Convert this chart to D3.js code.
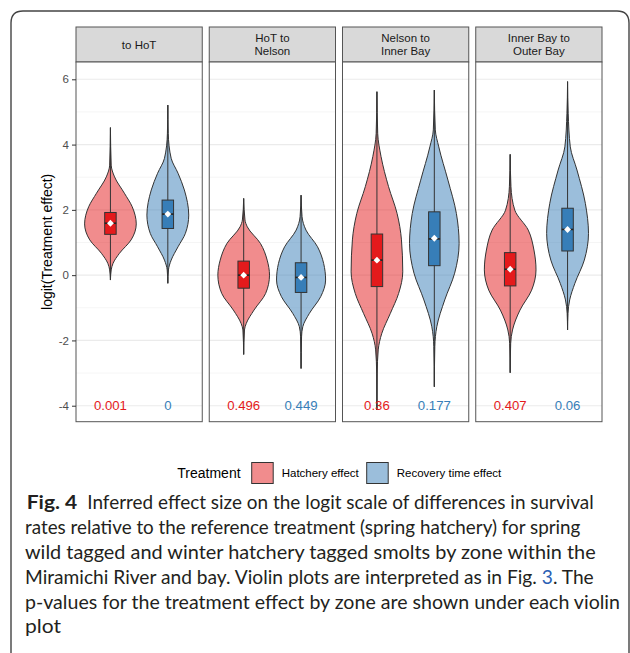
<!DOCTYPE html>
<html>
<head>
<meta charset="utf-8">
<script src="https://cdn.jsdelivr.net/npm/d3@7"></script>
<style>
  html, body { margin: 0; padding: 0; background: #fff; }
  svg { display: block; }
</style>
</head>
<body>
<svg id="chart" width="630" height="653"></svg>
<script>
// ---------------- DATA ----------------
const zones = ["to HoT", "HoT to\nNelson", "Nelson to\nInner Bay", "Inner Bay to\nOuter Bay"];
const treatments = ["Hatchery effect", "Recovery time effect"];
const yTicks = [-4, -2, 0, 2, 4, 6];
const yMinorTicks = [-3, -1, 1, 3, 5];

// summary stats per zone: [min, q1, median, q3, max, mean]
const hatcheryStats = [
  [-0.15, 1.25, 1.59, 1.92, 4.52, 1.59],
  [-2.43, -0.40, 0.00, 0.43, 2.35, 0.00],
  [-4.13, -0.35, 0.46, 1.26, 5.62, 0.46],
  [-2.99, -0.33, 0.18, 0.69, 3.70, 0.18]
];
const recoveryStats = [
  [-0.25, 1.43, 1.87, 2.30, 5.21, 1.87],
  [-2.86, -0.53, -0.07, 0.38, 2.45, -0.07],
  [-3.42, 0.29, 1.11, 1.94, 5.67, 1.13],
  [-1.68, 0.74, 1.40, 2.05, 5.93, 1.40]
];

// density profiles [value, relative density]
const hatcheryDensity = [
  [[-0.15,0],[0.16,0.03],[0.36,0.10],[0.67,0.35],[1.08,0.80],[1.57,1.0],[2.10,0.84],[2.51,0.54],[3.01,0.16],[3.37,0.03],[4.52,0]],
  [[-2.43,0],[-1.68,0.03],[-1.48,0.10],[-1.07,0.40],[-0.56,0.85],[0.0,1.0],[0.46,0.91],[0.97,0.65],[1.48,0.14],[1.69,0.05],[2.35,0]],
  [[-4.13,0],[-3.0,0.01],[-2.29,0.05],[-1.78,0.19],[-1.17,0.52],[-0.56,0.84],[0.10,1.0],[1.08,0.95],[1.89,0.78],[2.71,0.45],[3.63,0.16],[4.34,0.03],[5.62,0]],
  [[-2.99,0],[-2.09,0.02],[-1.68,0.09],[-1.07,0.38],[-0.46,0.83],[0.16,1.0],[0.77,0.92],[1.38,0.70],[1.99,0.18],[2.71,0.03],[3.70,0]]
];
const recoveryDensity = [
  [[-0.25,0],[0.16,0.03],[0.46,0.16],[0.87,0.49],[1.28,0.84],[1.84,1.0],[2.61,0.79],[3.12,0.49],[3.58,0.16],[4.34,0.02],[5.21,0]],
  [[-2.86,0],[-1.89,0.02],[-1.58,0.07],[-1.17,0.34],[-0.66,0.80],[-0.15,1.0],[0.36,0.92],[0.87,0.67],[1.38,0.20],[1.79,0.04],[2.45,0]],
  [[-3.42,0],[-2.19,0.02],[-1.58,0.10],[-0.76,0.42],[0.06,0.82],[0.97,1.0],[1.89,0.89],[2.91,0.55],[3.93,0.18],[4.45,0.04],[5.67,0]],
  [[-1.68,0],[-1.17,0.02],[-0.76,0.10],[-0.25,0.35],[0.46,0.80],[1.28,1.0],[2.20,0.85],[3.22,0.45],[3.93,0.13],[4.96,0.03],[5.93,0]]
];
// relative peak width of each violin
const hatcheryPeak = [1.0, 1.0, 1.0, 1.0];
const recoveryPeak = [0.81, 0.95, 0.96, 0.81];

const hatcheryPValues = ["0.001", "0.496", "0.36", "0.407"];
const recoveryPValues = ["0", "0.449", "0.177", "0.06"];

const captionLines = [
  "Inferred effect size on the logit scale of differences in survival",
  "rates relative to the reference treatment (spring hatchery) for spring",
  "wild tagged and winter hatchery tagged smolts by zone within the",
  "Miramichi River and bay. Violin plots are interpreted as in Fig. 3. The",
  "p-values for the treatment effect by zone are shown under each violin",
  "plot"
];

// ---------------- STYLE / LAYOUT ----------------
const fillColors = ["#E41A1C", "#377EB8"];
const textColors = ["#E41A1C", "#377EB8"];
const chartFont = "'Liberation Sans', Arial, sans-serif";
const captionFont = "Lato, 'Open Sans', sans-serif";

const panelLeft = 76, panelRight = 602, panelTop = 62, panelBottom = 421.7;
const stripTop = 27;

const svg = d3.select("#chart");
svg.append("rect").attr("width", 630).attr("height", 653).attr("fill", "#fff");

// figure frame
svg.append("path")
  .attr("d", "M11,653 L11,23 Q11,11 23,11 L617,11 Q629,11 629,23 L629,653")
  .attr("fill", "none").attr("stroke", "#444").attr("stroke-width", 1.4);

const panelScale = d3.scaleBand().domain(zones).range([panelLeft, panelRight]).paddingInner(0.0525).paddingOuter(0);
const y = d3.scaleLinear().domain([-4.49, 6.53]).range([panelBottom, panelTop]);

const bw = panelScale.bandwidth();

const treatData = [
  { stats: hatcheryStats, dens: hatcheryDensity, peak: hatcheryPeak, p: hatcheryPValues },
  { stats: recoveryStats, dens: recoveryDensity, peak: recoveryPeak, p: recoveryPValues }
];

zones.forEach((zone, zi) => {
  const x0 = panelScale(zone);
  const xs = d3.scalePoint().domain(treatments).range([x0, x0 + bw]).padding(0.6);
  const step = xs.step();
  const g = svg.append("g");

  // strip
  g.append("rect").attr("x", x0).attr("y", stripTop).attr("width", bw).attr("height", panelTop - stripTop)
    .attr("fill", "#d9d9d9").attr("stroke", "#555").attr("stroke-width", 1);
  const lines = zone.split("\n");
  const cy = (stripTop + panelTop) / 2;
  lines.forEach((ln, li) => {
    g.append("text").attr("x", x0 + bw / 2)
      .attr("y", cy + (li - (lines.length - 1) / 2) * 13)
      .attr("dy", "0.35em").attr("text-anchor", "middle")
      .attr("font-family", chartFont).attr("font-size", 11.5).attr("fill", "#1a1a1a")
      .text(ln);
  });

  // panel background + grid
  g.append("rect").attr("x", x0).attr("y", panelTop).attr("width", bw).attr("height", panelBottom - panelTop).attr("fill", "#fff");
  yMinorTicks.forEach(t => {
    g.append("line").attr("x1", x0).attr("x2", x0 + bw).attr("y1", y(t)).attr("y2", y(t))
      .attr("stroke", "#f2f2f2").attr("stroke-width", 0.8);
  });
  yTicks.forEach(t => {
    g.append("line").attr("x1", x0).attr("x2", x0 + bw).attr("y1", y(t)).attr("y2", y(t))
      .attr("stroke", "#ebebeb").attr("stroke-width", 1.1);
  });

  treatments.forEach((tr, ti) => {
    const d = treatData[ti];
    const cx = xs(tr);
    const halfMax = 0.45 * step * d.peak[zi];
    const area = d3.area()
      .y(p => y(p[0]))
      .x0(p => cx - p[1] * halfMax)
      .x1(p => cx + p[1] * halfMax)
      .curve(d3.curveMonotoneY);
    g.append("path").attr("d", area(d.dens[zi]))
      .attr("fill", fillColors[ti]).attr("fill-opacity", 0.5)
      .attr("stroke", "#333").attr("stroke-width", 1);

    const [mn, q1, med, q3, mx, mean] = d.stats[zi];
    const bh = 0.1 * step;
    g.append("line").attr("x1", cx).attr("x2", cx).attr("y1", y(mx)).attr("y2", y(mn))
      .attr("stroke", "#333").attr("stroke-width", 1);
    g.append("rect").attr("x", cx - bh).attr("width", 2 * bh)
      .attr("y", y(q3)).attr("height", y(q1) - y(q3))
      .attr("fill", fillColors[ti]).attr("stroke", "#333").attr("stroke-width", 1);
    g.append("line").attr("x1", cx - bh).attr("x2", cx + bh).attr("y1", y(med)).attr("y2", y(med))
      .attr("stroke", "#222").attr("stroke-width", 1.6);
    g.append("path").attr("d", d3.symbol().type(d3.symbolDiamond2).size(30)())
      .attr("transform", `translate(${cx},${y(mean)})`).attr("fill", "#fff");

    // p-value
    g.append("text").attr("x", cx).attr("y", y(-4)).attr("dy", "0.35em")
      .attr("text-anchor", "middle").attr("font-family", chartFont).attr("font-size", 13.2)
      .attr("fill", textColors[ti]).text(d.p[zi]);
  });

  // panel border
  g.append("rect").attr("x", x0).attr("y", panelTop).attr("width", bw).attr("height", panelBottom - panelTop)
    .attr("fill", "none").attr("stroke", "#555").attr("stroke-width", 1);
});

// y axis
const yAxis = d3.axisLeft(y).tickValues(yTicks).tickSize(4).tickPadding(3).tickFormat(d3.format("d"));
const ax = svg.append("g").attr("transform", `translate(${panelLeft},0)`).call(yAxis);
ax.select(".domain").remove();
ax.selectAll(".tick line").attr("stroke", "#333");
ax.selectAll(".tick text").attr("font-family", chartFont).attr("font-size", 11.5).attr("fill", "#4d4d4d")
  .text(d => d < 0 ? "-" + Math.abs(d) : d);

svg.append("text")
  .attr("transform", `translate(47,${(panelTop + panelBottom) / 2}) rotate(-90)`)
  .attr("text-anchor", "middle").attr("dy", "0.35em")
  .attr("font-family", chartFont).attr("font-size", 14).attr("fill", "#000")
  .text("logit(Treatment effect)");

// legend
const lg = svg.append("g");
lg.append("text").attr("x", 177.3).attr("y", 473).attr("dy", "0.35em")
  .attr("font-family", chartFont).attr("font-size", 14).attr("fill", "#000").text("Treatment");
const legendX = [251.7, 366.7];
treatments.forEach((tr, ti) => {
  lg.append("rect").attr("x", legendX[ti]).attr("y", 462.5).attr("width", 21.5).attr("height", 21)
    .attr("fill", fillColors[ti]).attr("fill-opacity", 0.5).attr("stroke", "#333").attr("stroke-width", 1);
  lg.append("text").attr("x", legendX[ti] + 30).attr("y", 473).attr("dy", "0.35em")
    .attr("font-family", chartFont).attr("font-size", 11.5).attr("fill", "#000").text(tr);
});

// caption
const capBase = [509.3, 534, 559, 584, 608.5, 633.3];
const capStart = [87.3, 25, 25, 25, 25, 25];
const capEnd = [593.7, 580.4, 595.7, 593.7, 620, 61];
svg.append("text").attr("x", 26.7).attr("y", capBase[0])
  .attr("font-family", captionFont).attr("font-size", 19).attr("font-weight", "bold").attr("fill", "#231f20")
  .attr("textLength", 77.3 - 26.7).attr("lengthAdjust", "spacingAndGlyphs").text("Fig. 4");
captionLines.forEach((ln, i) => {
  const t = svg.append("text").attr("x", capStart[i]).attr("y", capBase[i])
    .attr("font-family", captionFont).attr("font-size", 19).attr("fill", "#231f20")
    .attr("textLength", capEnd[i] - capStart[i]).attr("lengthAdjust", "spacingAndGlyphs");
  if (ln.includes("Fig. 3")) {
    const parts = ln.split("Fig. 3");
    t.append("tspan").text(parts[0] + "Fig. ");
    t.append("tspan").attr("fill", "#2b5fb4").text("3");
    t.append("tspan").text(parts[1]);
  } else {
    t.text(ln);
  }
});
</script>
</body>
</html>
